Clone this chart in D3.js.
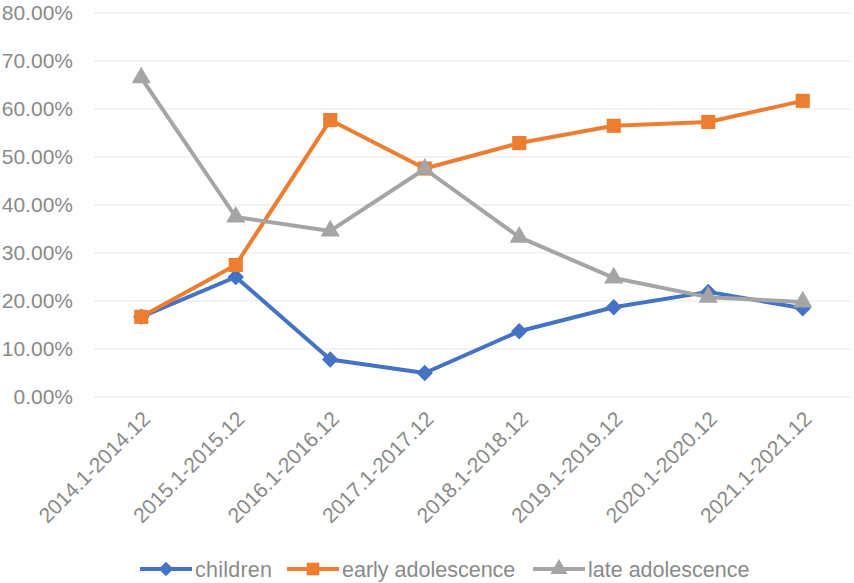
<!DOCTYPE html>
<html>
<head>
<meta charset="utf-8">
<script src="https://cdn.jsdelivr.net/npm/d3@7"></script>
<style>
  body { margin: 0; background: #fff; }
  svg { display: block; font-family: "Liberation Sans", Arial, sans-serif; }
</style>
</head>
<body>
<svg id="chart"></svg>
<script>
const periods = ["2014.1-2014.12", "2015.1-2015.12", "2016.1-2016.12", "2017.1-2017.12",
                 "2018.1-2018.12", "2019.1-2019.12", "2020.1-2020.12", "2021.1-2021.12"];
const children = [16.7, 25.0, 7.8, 5.0, 13.7, 18.7, 21.9, 18.5];
const earlyAdolescence = [16.7, 27.5, 57.7, 47.6, 52.9, 56.5, 57.3, 61.7];
const lateAdolescence = [66.5, 37.5, 34.6, 47.5, 33.3, 24.8, 20.8, 19.8];
const yTicks = [0, 10, 20, 30, 40, 50, 60, 70, 80];

// diamond = square turned 45 degrees, like the spreadsheet marker
const series = [
    {name: "children", values: children, color: "#4472C4", symbol: d3.symbolSquare, size: 135, rot: 45},
    {name: "early adolescence", values: earlyAdolescence, color: "#ED7D31", symbol: d3.symbolSquare, size: 200, rot: 0},
    {name: "late adolescence", values: lateAdolescence, color: "#A5A5A5", symbol: d3.symbolTriangle, size: 160, rot: 0}
];

const width = 854, height = 583;
const margin = {top: 13, right: 4, bottom: 186, left: 94};

const svg = d3.select("#chart")
    .attr("width", width)
    .attr("height", height)
    .attr("viewBox", [0, 0, width, height]);

const x = d3.scaleBand()
    .domain(periods)
    .range([margin.left, width - margin.right]);

const y = d3.scaleLinear()
    .domain([0, 80])
    .range([height - margin.bottom, margin.top]);

// gridlines
svg.append("g")
    .selectAll("line")
    .data(yTicks)
    .join("line")
    .attr("x1", margin.left)
    .attr("x2", width - margin.right)
    .attr("y1", d => y(d))
    .attr("y2", d => y(d))
    .attr("stroke", "#efefef")
    .attr("stroke-width", 1.5);

// y axis labels
const yAxis = svg.append("g")
    .attr("transform", `translate(${margin.left - 18},0)`)
    .call(d3.axisLeft(y).tickValues(yTicks).tickSize(0).tickFormat(d => d.toFixed(2) + "%"));
yAxis.select(".domain").remove();
yAxis.selectAll("text")
    .attr("fill", "#8a8a8a")
    .attr("font-size", 21)
    .attr("font-family", "Liberation Sans, Arial, sans-serif");

// x labels rotated
svg.append("g")
    .selectAll("text")
    .data(periods)
    .join("text")
    .attr("transform", d => `translate(${x(d) + x.bandwidth() / 2 + 5},${height - margin.bottom + 18}) rotate(-45)`)
    .attr("text-anchor", "end")
    .attr("dy", "0.35em")
    .attr("fill", "#8a8a8a")
    .attr("font-size", 21)
    .text(d => d);

const cx = i => x(periods[i]) + x.bandwidth() / 2;

const line = d3.line()
    .x((d, i) => cx(i))
    .y(d => y(d));

const sg = svg.append("g")
    .selectAll("g")
    .data(series)
    .join("g");

sg.append("path")
    .attr("d", d => line(d.values))
    .attr("fill", "none")
    .attr("stroke", d => d.color)
    .attr("stroke-width", 4)
    .attr("stroke-linejoin", "round");

sg.each(function (s) {
    d3.select(this).selectAll("path.mark")
        .data(s.values)
        .join("path")
        .attr("class", "mark")
        .attr("d", d3.symbol(s.symbol, s.size))
        .attr("transform", (d, i) => `translate(${cx(i)},${y(d)}) rotate(${s.rot})`)
        .attr("fill", s.color);
});

// legend
const legendItems = [{x: 140, s: series[0]}, {x: 287, s: series[1]}, {x: 533, s: series[2]}];
const legend = svg.append("g").attr("transform", "translate(0,569)");
const li = legend.selectAll("g")
    .data(legendItems)
    .join("g")
    .attr("transform", d => `translate(${d.x},0)`);
li.append("line")
    .attr("x1", 0).attr("x2", 52)
    .attr("stroke", d => d.s.color)
    .attr("stroke-width", 4);
li.append("path")
    .attr("d", d => d3.symbol(d.s.symbol, d.s.size * 0.8)())
    .attr("transform", d => `translate(26,0) rotate(${d.s.rot})`)
    .attr("fill", d => d.s.color);
li.append("text")
    .attr("x", 55)
    .attr("dy", "0.35em")
    .attr("fill", "#8a8a8a")
    .attr("font-size", 21.5)
    .attr("textLength", d => d.s.name === "children" ? 77 : null)
    .text(d => d.s.name);
</script>
</body>
</html>
